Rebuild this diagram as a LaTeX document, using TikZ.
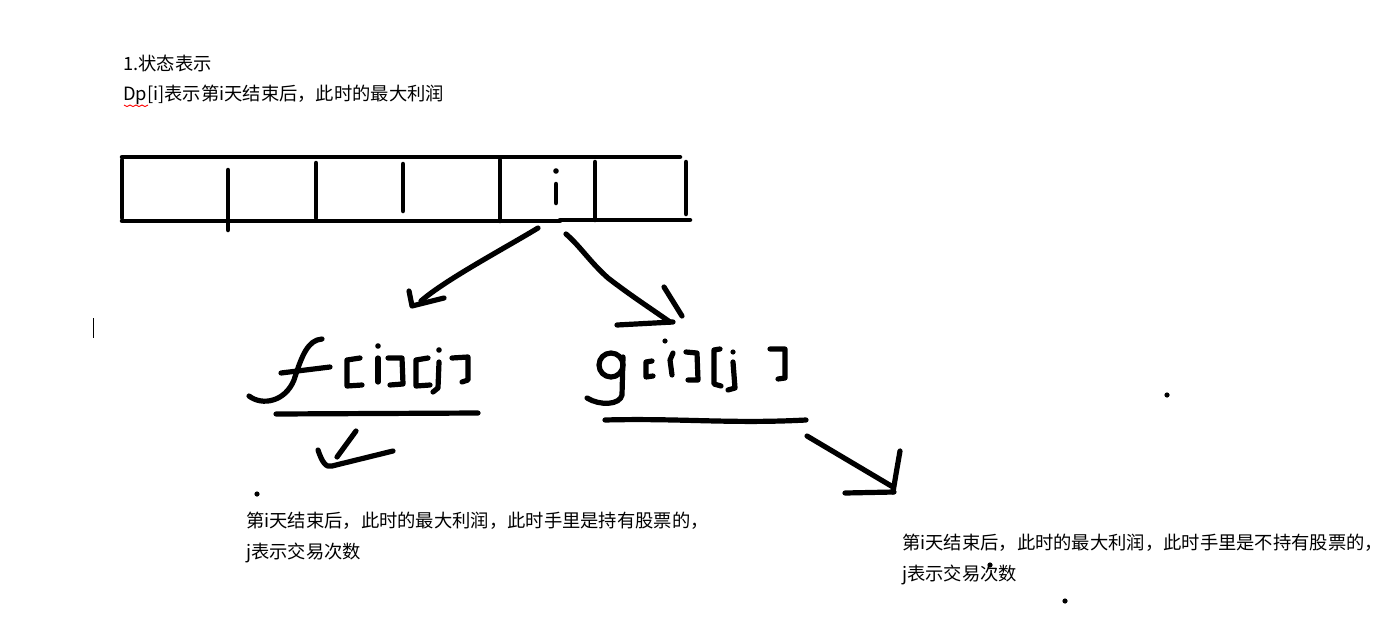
\documentclass[tikz,border=0pt]{standalone}
\usepackage{fontspec}
\newfontfamily\cjk{Noto Sans CJK SC}
\begin{document}
\begin{tikzpicture}[x=1pt,y=-1pt,
  ink/.style={line width=4.5pt,line cap=round,line join=round},
  pen/.style={line width=5.2pt,line cap=round,line join=round},
  txt/.style={font=\cjk\fontsize{18.3}{22}\selectfont, anchor=west, inner sep=0pt}]
\useasboundingbox (0,0) rectangle (1399,624);
\fill[white] (0,0) rectangle (1399,624);
% texts
\node[txt] (t1) at (123,63) {1.状态表示};
\node[txt] (t2) at (123,95) {Dp[i]表示第i天结束后，此时的最大利润};
\draw[red,line width=0.9pt] (124,105) \foreach \k in {1,...,8} {-- ({124+3*\k},{105+1.6*mod(\k,2)})};
% array
\draw[ink] (122,157) -- (680,157);
\draw[ink] (122,221) -- (560,221);
\draw[ink] (560,220) -- (690,220);
\draw[ink] (122,160) -- (122,218);
\draw[ink] (228,170) -- (228,230);
\draw[ink] (316,163) -- (316,218);
\draw[ink] (403,164) -- (403,211);
\draw[ink] (500,160) -- (500,221);
\draw[ink] (595,162) -- (595,220);
\draw[ink] (686,162) -- (686,214);
\fill (556,171) circle (2.8);
\draw[ink] (556,184) -- (556,203);
% left arrow
\draw[pen] (538,228) .. controls (505,248) and (445,280) .. (421,301);
\draw[pen] (409,291) -- (412,306) -- (444,298);
% right arrow
\draw[pen] (566,234) .. controls (580,246) and (590,262) .. (608,278) .. controls (630,295) and (650,308) .. (670,322);
\draw[pen] (617,325) -- (673,322);
\draw[pen] (664,287) -- (682,316);
% f[i][j]
\draw[pen] (249,396) .. controls (262,406) and (285,402) .. (294,380) .. controls (302,355) and (308,340) .. (322,339);
\draw[pen] (281,373) -- (330,367);
\draw[pen] (360,358) -- (347,360) -- (347,386) -- (362,385);
\fill (378,346) circle (2.8);
\draw[pen] (378,358) -- (378,382);
\draw[pen] (388,358) -- (402,358) -- (403,384) -- (390,385);
\draw[pen] (428,358) -- (416,360) -- (416,386) -- (430,385);
\fill (439,350) circle (2.8);
\draw[pen] (439,362) -- (438,388) -- (433,392);
\draw[pen] (452,358) -- (468,357) -- (468,380) -- (462,382);
\draw[pen] (276,414) -- (478,413);
\draw[pen] (356,431) -- (337,457);
\draw[pen] (318,450) .. controls (322,462) and (326,468) .. (332,466) -- (393,451);
% g[i][j]
\draw[pen] (611,365) ellipse (12 and 12);
\draw[pen] (623,357) -- (622,395) .. controls (620,405) and (600,406) .. (587,398);
\draw[pen] (652,361) -- (646,362) -- (646,377) -- (653,376);
\fill (665,341) circle (2.6);
\draw[pen] (673,353) -- (670,360) -- (672,375);
\draw[pen] (686,352) -- (697,353) -- (698,380) -- (688,380);
\draw[pen] (720,349) -- (714,350) -- (714,384) -- (721,386);
\fill (733,352) circle (2.6);
\draw[pen] (733,362) -- (735,388) -- (728,390);
\draw[pen] (770,349) -- (785,349) -- (785,378) -- (778,379);
\draw[pen] (605,420) .. controls (680,418) and (730,424) .. (806,420);
% bottom right arrow
\draw[pen] (807,436) -- (893,487);
\draw[pen] (845,493) -- (894,492);
\draw[pen] (900,451) -- (896,474) -- (893,492);
% dots and cursor
\foreach \p in {(257,494),(1167,395),(990,565),(1065,601)} \fill \p circle (2.6);
\draw[line width=1pt] (93,318) -- (93,338);
% descriptions
\node[txt] (d1) at (246,521) {第i天结束后，此时的最大利润，此时手里是持有股票的，};
\node[txt] (d2) at (246,553) {j表示交易次数};
\node[txt] (d3) at (902,543) {第i天结束后，此时的最大利润，此时手里是不持有股票的，};
\node[txt] (d4) at (902,575) {j表示交易次数};
\end{tikzpicture}
\end{document}
